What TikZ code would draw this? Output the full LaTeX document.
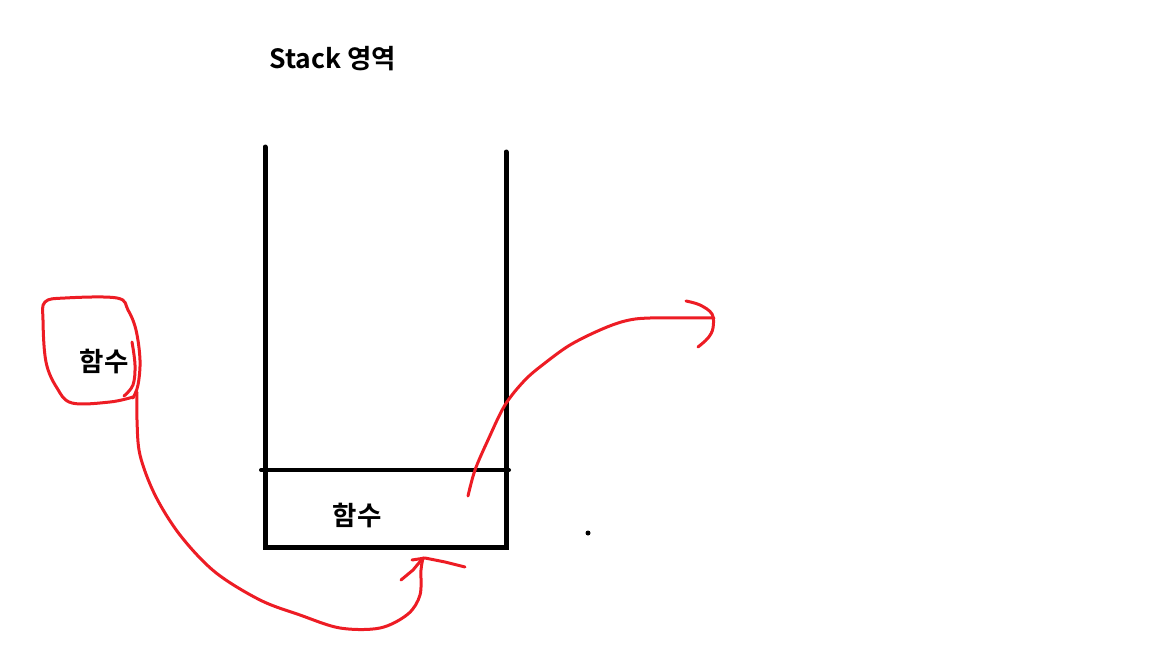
\documentclass[tikz,border=0pt]{standalone}
\usepackage{fontspec}
\newfontfamily\kr{Noto Sans CJK KR}[BoldFont={Noto Sans CJK KR Bold}]
\definecolor{paintred}{RGB}{237,28,36}
\begin{document}
\begin{tikzpicture}[x=1pt,y=-1pt,
  wall/.style={line width=5pt,line cap=round,black},
  pen/.style={line width=3pt,paintred,line cap=round,line join=round},
  lbl/.style={font=\kr\bfseries\fontsize{26.5}{30}\selectfont,inner sep=0pt,text=black}]
\useasboundingbox (0,0) rectangle (1152,648);
% labels
\node[lbl] (title) at (333,59) {Stack 영역};
\node[lbl] (f1) at (104,361) {함수};
\node[lbl] (f2) at (357,515) {함수};
% stack walls
\coordinate (lt) at (265,147);
\coordinate (lb) at (265,547);
\coordinate (rt) at (506,152);
\coordinate (rb) at (506,547);
\coordinate (ml) at (261,470);
\coordinate (mr) at (509,470);
\draw[wall] (lt) -- (lb) -- (rb) -- (rt);
\draw[wall,line width=4pt] (ml) -- (mr);
% dot
\fill (588,533) circle (2.5);
% loop around the left label
\draw[pen] plot[smooth,tension=0.6] coordinates {(133,397) (110,402) (72,403) (57,388) (46,362) (43,320) (45,302) (65,298) (117,298) (128,310) (136,330) (140,360) (138,385) (133,398)};
\draw[pen] plot[smooth,tension=0.6] coordinates {(132,342) (135,365) (133,385) (124,396)};
% long curve to the stack
\draw[pen] plot[smooth,tension=0.55] coordinates {(137,392) (137,420) (140,455) (155,495) (180,535) (215,572) (260,600) (300,615) (340,628) (380,628) (408,614) (420,595) (421,570) (423,558)};
\draw[pen] (401,580) -- (413,570) -- (423,558);
\draw[pen] (412,560) -- (425,558) -- (445,562) -- (465,567);
% curve leaving the stack
\draw[pen] plot[smooth,tension=0.55] coordinates {(468,496) (475,470) (488,440) (505,405) (525,380) (545,363) (570,345) (600,330) (625,321) (650,318) (714,318)};
\draw[pen] plot[smooth,tension=0.6] coordinates {(686,301) (700,305) (712,314) (713,328) (708,338) (698,347)};
\end{tikzpicture}
\end{document}
